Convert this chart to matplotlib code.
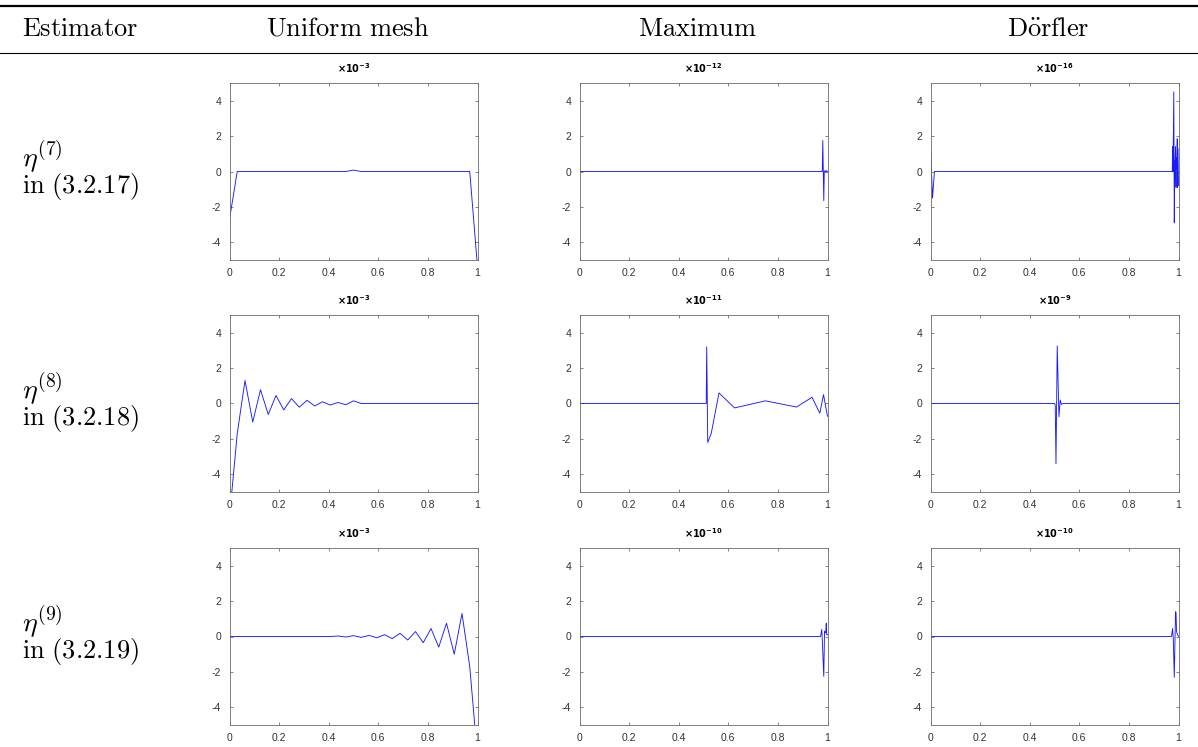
import matplotlib
matplotlib.use("Agg")
import matplotlib.pyplot as plt
from matplotlib.lines import Line2D

plt.rcParams['mathtext.fontset'] = 'cm'
plt.rcParams['axes.unicode_minus'] = False
plt.rcParams['font.family'] = ['Liberation Sans', 'DejaVu Sans']

# Column headers and row labels of the table
col_headers = [r'$\mathrm{Estimator}$', r'$\mathrm{Uniform\ mesh}$',
               r'$\mathrm{Maximum}$', r'$\mathrm{D\ddot{o}rfler}$']
row_eta = [r'$\eta^{(7)}$', r'$\eta^{(8)}$', r'$\eta^{(9)}$']
row_ref = [r'$\mathrm{in\ (3.2.17)}$', r'$\mathrm{in\ (3.2.18)}$',
           r'$\mathrm{in\ (3.2.19)}$']

# Exponent of the scale factor shown above each panel (row, col)
exponents = [[-3, -12, -16],
             [-3, -11, -9],
             [-3, -10, -10]]

# eta7, uniform mesh
x_7u = [0, 0.03125, 0.46875, 0.5, 0.53125, 0.96875, 1.0]
y_7u = [-2.7, 0, 0, 0.08, 0, 0, -5.4]
# eta7, maximum marking
x_7m = [0, 0.979, 0.981, 0.983, 0.985, 0.987, 0.990, 0.993, 0.996, 1.0]
y_7m = [0, 0, 1.75, 0, -1.65, 0, 0.05, -0.05, 0.05, 0]
# eta7, Doerfler marking
x_7d = [0, 0.008, 0.016, 0.975, 0.976, 0.978, 0.981, 0.983, 0.985, 0.986,
        0.988, 0.990, 0.991, 0.993, 0.995, 0.996, 0.998, 1.0]
y_7d = [1.5, -1.5, 0, 0, 1.4, 0, 4.5, -2.9, 0.6, 0.3,
        1.4, -0.9, 0.8, 0.2, 1.85, -0.9, 1.3, -0.8]

# eta8, uniform mesh
x_8u = [0, 0.03125, 0.0625, 0.09375, 0.125, 0.15625, 0.1875, 0.21875, 0.25,
        0.28125, 0.3125, 0.34375, 0.375, 0.40625, 0.4375, 0.46875, 0.5,
        0.53125, 1.0]
y_8u = [-6.4, -1.7, 1.3, -1.05, 0.78, -0.62, 0.45, -0.36, 0.28,
        -0.21, 0.18, -0.14, 0.1, -0.09, 0.06, -0.07, 0.15,
        0, 0]
# eta8, maximum marking
x_8m = [0, 0.511, 0.513, 0.517, 0.531, 0.5625, 0.625, 0.75, 0.875,
        0.9375, 0.969, 0.984, 1.0]
y_8m = [0, 0, 3.2, -2.2, -1.7, 0.6, -0.25, 0.15, -0.2,
        0.35, -0.55, 0.5, -0.72]
# eta8, Doerfler marking
x_8d = [0, 0.500, 0.503, 0.506, 0.511, 0.518, 0.523, 0.528, 0.535, 1.0]
y_8d = [0, 0, -0.1, -3.4, 3.25, -0.75, 0.2, -0.05, 0, 0]

# eta9, uniform mesh
x_9u = [0, 0.40625, 0.4375, 0.46875, 0.5, 0.53125, 0.5625, 0.59375, 0.625,
        0.65625, 0.6875, 0.71875, 0.75, 0.78125, 0.8125, 0.84375, 0.875,
        0.90625, 0.9375, 0.96875, 1.0]
y_9u = [0, 0, 0.03, -0.03, 0.05, -0.05, 0.06, -0.07, 0.1,
        -0.12, 0.18, -0.2, 0.28, -0.35, 0.45, -0.6, 0.75,
        -1.0, 1.3, -1.7, -6.8]
# eta9, maximum marking
x_9m = [0, 0.972, 0.977, 0.979, 0.985, 0.988, 0.991, 0.993, 0.995, 0.997, 1.0]
y_9m = [0, 0, 0.4, -0.2, -2.25, 0.3, 0.2, 0.25, 0.75, 0.1, 0.1]
# eta9, Doerfler marking
x_9d = [0, 0.972, 0.976, 0.979, 0.983, 0.988, 0.990, 0.992, 0.996, 1.0]
y_9d = [0, 0, 0.45, -0.1, -2.3, 1.4, 1.35, 0.3, 0.1, 0]

series = [[(x_7u, y_7u), (x_7m, y_7m), (x_7d, y_7d)],
          [(x_8u, y_8u), (x_8m, y_8m), (x_8d, y_8d)],
          [(x_9u, y_9u), (x_9m, y_9m), (x_9d, y_9d)]]

xticks = [0, 0.2, 0.4, 0.6, 0.8, 1]
xticklabels = ['0', '0.2', '0.4', '0.6', '0.8', '1']
yticks = [-4, -2, 0, 2, 4]
yticklabels = ['-4', '-2', '0', '2', '4']

W, H = 1198, 747
fig = plt.figure(figsize=(W / 100, H / 100), dpi=100)

# panel placement in pixels
col_left = [229.5, 579.5, 930.5]
panel_w = 248
row_top = [83, 315, 548]
panel_h = 177

# table rules
fig.add_artist(Line2D([0, 1], [1 - 6 / H, 1 - 6 / H], color='black', lw=1.6))
fig.add_artist(Line2D([0, 1], [1 - 53 / H, 1 - 53 / H], color='black', lw=0.8))

header_x = [80, 348, 697, 1048]
for hx, txt in zip(header_x, col_headers):
    fig.text(hx / W, 1 - 29 / H, txt, ha='center', va='center', fontsize=19)

for r in range(3):
    cy = row_top[r] + panel_h / 2
    fig.text(22 / W, 1 - (cy - 15) / H, row_eta[r], ha='left', va='center',
             fontsize=20)
    fig.text(22 / W, 1 - (cy + 15) / H, row_ref[r], ha='left', va='center',
             fontsize=19)
    for c in range(3):
        ax = fig.add_axes([col_left[c] / W, 1 - (row_top[r] + panel_h) / H,
                           panel_w / W, panel_h / H])
        xs, ys = series[r][c]
        ax.plot(xs, ys, color='#1a1aff', lw=0.65)
        ax.set_xlim(0, 1)
        ax.set_ylim(-5, 5)
        ax.set_xticks(xticks)
        ax.set_xticklabels(xticklabels)
        ax.set_yticks(yticks)
        ax.set_yticklabels(yticklabels)
        ax.tick_params(direction='in', length=2.5, width=0.5, top=True,
                       right=True, labelsize=7.5, colors='#333333', pad=6,
                       color='#555555')
        for s in ax.spines.values():
            s.set_color('#6a6a6a')
            s.set_linewidth(0.6)
        ax.set_title(r'$\mathbf{\times 10^{%d}}$' % exponents[r][c],
                     fontsize=7, pad=7, math_fontfamily='dejavusans')

fig.savefig('out.png', dpi=100)
